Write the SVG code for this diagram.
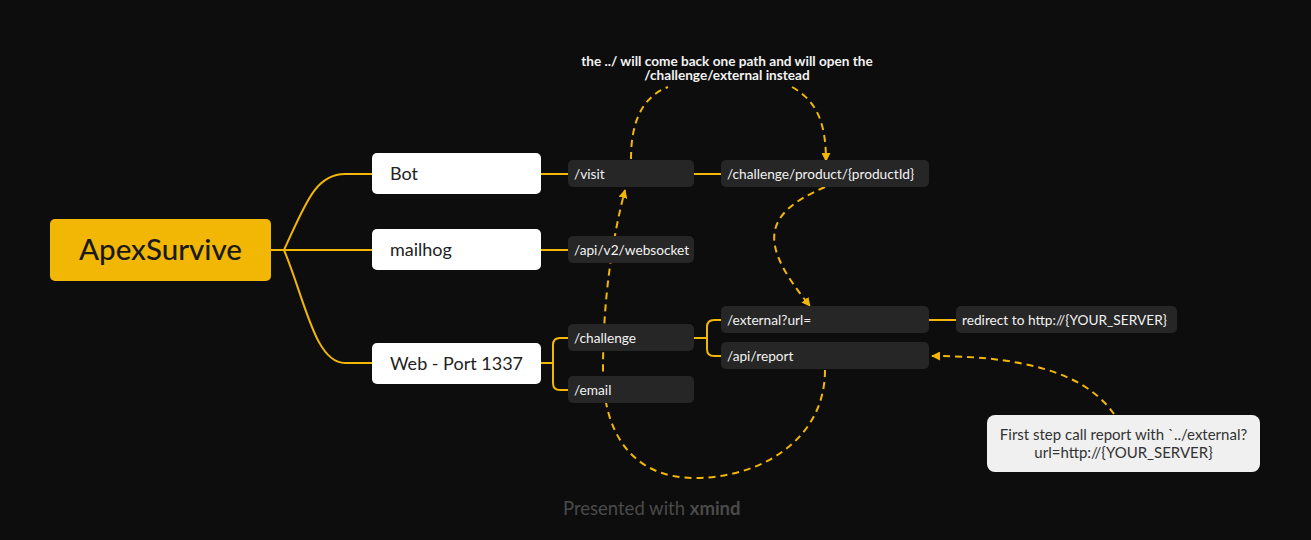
<svg xmlns="http://www.w3.org/2000/svg" width="1311" height="540" viewBox="0 0 1311 540">
<defs>
<marker id="arr" viewBox="0 0 10 10" refX="9" refY="5" markerWidth="9" markerHeight="9" markerUnits="userSpaceOnUse" orient="auto">
<path d="M0,0 L10,5 L0,10 z" fill="#f2b705"/>
</marker>
<style>
.bg{fill:#0d0d0d}
.root{fill:#f2b705}
.l1{fill:#ffffff}
.l2{fill:#262626}
.note{fill:#f0f0f0}
.t0{font-family:Lato,"Open Sans",sans-serif;font-size:29.5px;font-weight:500;fill:#1a1a1a}
.t1{font-family:Lato,"Open Sans",sans-serif;font-size:18px;fill:#222}
.t2{font-family:Lato,"Open Sans",sans-serif;font-size:13.7px;fill:#f2f2f2}
.tn{font-family:Lato,"Open Sans",sans-serif;font-size:15px;fill:#333}
.ta{font-family:Lato,"Open Sans",sans-serif;font-size:13.6px;font-weight:700;fill:#f2f2f2}
.wm{font-family:Lato,"Open Sans",sans-serif;font-size:18.5px;fill:#4a4a4a}
.c{fill:none;stroke:#f2b705;stroke-width:2}
.d{fill:none;stroke:#f2b705;stroke-width:2;stroke-dasharray:7 5}
.m{marker-end:url(#arr)}
</style>
</defs>
<rect class="bg" x="0" y="0" width="1311" height="540"/>
<g id="connectors">
<path class="c" d="M271 250 H284"/>
<path class="c" d="M284 250 C305 205, 315 174, 345 174 H372"/>
<path class="c" d="M284 250 H372"/>
<path class="c" d="M284 250 C305 300, 315 363, 345 363 H372"/>
<path class="c" d="M541 174 H568"/>
<path class="c" d="M541 250 H568"/>
<path class="c" d="M541 363 H553 M568 338 H560 Q553 338 553 345 V383 Q553 390 560 390 H568"/>
<path class="c" d="M694 174 H721"/>
<path class="c" d="M694 338 H707 M721 320 H714 Q707 320 707 327 V349 Q707 356 714 356 H721"/>
<path class="c" d="M929 320 H956"/>
<path class="d" d="M631 159 C631 125, 640 98, 668 87"/>
<path class="d m" d="M792 87 C815 100, 826 120, 826 161"/>
<path class="d m" d="M825 187 C760 215, 760 245, 810 306"/>
<path class="d m" d="M825 370 C825 440, 760 478, 695 478 C630 478, 603 430, 603 370 C603 300, 612 240, 625 190"/>
<path class="d m" d="M1114 414 C1090 380, 1040 356, 932 356"/>
</g>
<g id="root">
<rect class="root" x="50" y="219" width="221" height="62" rx="5"/>
<text class="t0" x="160.5" y="260" text-anchor="middle">ApexSurvive</text>
</g>
<g id="bot">
<rect class="l1" x="372" y="153" width="169" height="41" rx="5"/>
<text class="t1" x="390" y="180">Bot</text>
</g>
<g id="mailhog">
<rect class="l1" x="372" y="229" width="169" height="41" rx="5"/>
<text class="t1" x="390" y="256">mailhog</text>
</g>
<g id="web">
<rect class="l1" x="372" y="343" width="169" height="41" rx="5"/>
<text class="t1" x="390" y="370">Web - Port 1337</text>
</g>
<g id="visit">
<rect class="l2" x="568" y="160" width="126" height="27" rx="5"/>
<text class="t2" x="574" y="179">/visit</text>
</g>
<g id="websocket">
<rect class="l2" x="568" y="236" width="126" height="27" rx="5"/>
<text class="t2" x="574" y="255">/api/v2/websocket</text>
</g>
<g id="challenge">
<rect class="l2" x="568" y="324" width="126" height="27" rx="5"/>
<text class="t2" x="574" y="343">/challenge</text>
</g>
<g id="email">
<rect class="l2" x="568" y="376" width="126" height="27" rx="5"/>
<text class="t2" x="574" y="395">/email</text>
</g>
<g id="product">
<rect class="l2" x="721" y="160" width="208" height="27" rx="5"/>
<text class="t2" x="727" y="179">/challenge/product/{productId}</text>
</g>
<g id="external">
<rect class="l2" x="721" y="306" width="208" height="27" rx="5"/>
<text class="t2" x="727" y="325">/external?url=</text>
</g>
<g id="report">
<rect class="l2" x="721" y="342" width="208" height="27" rx="5"/>
<text class="t2" x="727" y="361">/api/report</text>
</g>
<g id="redirect">
<rect class="l2" x="956" y="306" width="221" height="27" rx="5"/>
<text class="t2" x="962" y="325">redirect to http://{YOUR_SERVER}</text>
</g>
<g id="note">
<rect class="note" x="987" y="415" width="273" height="57" rx="8"/>
<text class="tn" x="1123.5" y="440" text-anchor="middle">First step call report with `../external?</text>
<text class="tn" x="1123.5" y="458" text-anchor="middle">url=http://{YOUR_SERVER}</text>
</g>
<g id="annotation">
<text class="ta" x="727" y="66" text-anchor="middle">the ../ will come back one path and will open the</text>
<text class="ta" x="727" y="80" text-anchor="middle">/challenge/external instead</text>
</g>
<text class="wm" x="563" y="515">Presented with <tspan font-weight="700">xmind</tspan></text>
</svg>
